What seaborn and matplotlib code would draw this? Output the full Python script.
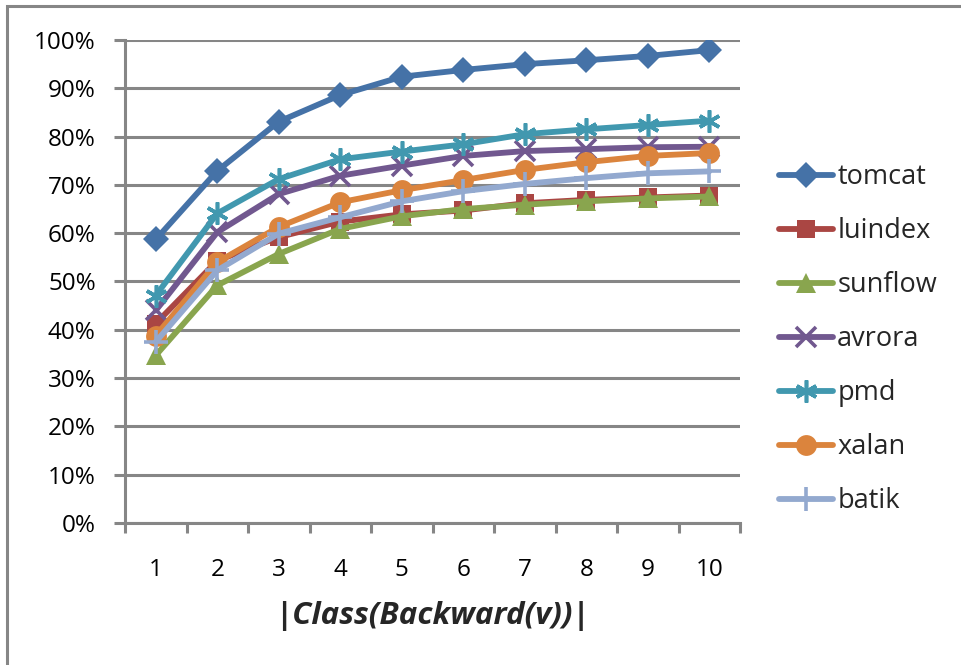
import matplotlib
matplotlib.use("Agg")
import matplotlib.pyplot as plt
import seaborn as sns
import pandas as pd
import numpy as np
from matplotlib.ticker import FuncFormatter, MultipleLocator, FixedLocator
from matplotlib.patches import Rectangle
from matplotlib.lines import Line2D

sizes = [1, 2, 3, 4, 5, 6, 7, 8, 9, 10]
tomcat = [58.7, 72.9, 83.1, 88.6, 92.4, 93.8, 95.0, 95.8, 96.7, 97.9]
luindex = [41.3, 54.3, 59.2, 62.4, 63.9, 64.7, 66.2, 66.9, 67.4, 67.8]
sunflow = [34.7, 49.2, 55.7, 60.9, 63.5, 65.0, 65.9, 66.6, 67.2, 67.6]
avrora = [44.0, 60.2, 68.1, 71.9, 74.0, 76.0, 77.0, 77.4, 77.8, 77.9]
pmd = [47.1, 64.1, 71.2, 75.3, 76.9, 78.4, 80.5, 81.5, 82.4, 83.3]
xalan = [38.8, 54.0, 61.3, 66.4, 68.9, 71.0, 73.1, 74.7, 76.0, 76.6]
batik = [37.5, 52.3, 59.9, 63.3, 66.6, 68.7, 70.2, 71.4, 72.4, 72.8]

names = ["tomcat", "luindex", "sunflow", "avrora", "pmd", "xalan", "batik"]
series = [tomcat, luindex, sunflow, avrora, pmd, xalan, batik]
colors = ["#4572A7", "#AA4643", "#89A54E", "#71588F", "#4198AF", "#DB843D", "#93A9CF"]
markers = ["D", "s", "^", "x", (6, 2, 0), "o", "+"]
msizes = [13, 13, 14, 14, 16, 15, 17]

rows = []
for n, vals in zip(names, series):
    for s, v in zip(sizes, vals):
        rows.append({"size": s, "value": v / 100.0, "bench": n})
df = pd.DataFrame(rows)

sns.set_theme(style="white")
plt.rcParams["font.family"] = ["Open Sans", "DejaVu Sans"]

fig = plt.figure(figsize=(9.61, 6.65), dpi=100)
ax = fig.add_axes([125 / 961, 1 - 523 / 665, 615 / 961, 483 / 665])

LW = 4.2
def mew(m):
    return 2.6 if m in ("x", "+", (6, 2, 0)) else 0

for n, c, m, ms in zip(names, colors, markers, msizes):
    sub = df[df["bench"] == n]
    sns.lineplot(data=sub, x="size", y="value", ax=ax, color=c, marker=m,
                 markersize=ms, linewidth=LW, markeredgewidth=mew(m),
                 markeredgecolor=c, label=n, legend=False)

ax.set_xlim(0.5, 10.5)
ax.set_ylim(0, 1.0)
ax.yaxis.set_major_locator(MultipleLocator(0.1))
ax.yaxis.set_major_formatter(FuncFormatter(lambda v, p: f"{v*100:.0f}%"))
ax.xaxis.set_major_locator(FixedLocator(sizes))
ax.xaxis.set_minor_locator(FixedLocator(np.arange(0.5, 11, 1.0)))
ax.grid(axis="y", color="#868686", linewidth=2.2)
ax.set_axisbelow(True)
for s in ["top", "right"]:
    ax.spines[s].set_visible(False)
for s in ["left", "bottom"]:
    ax.spines[s].set_color("#868686")
    ax.spines[s].set_linewidth(2.2)
ax.tick_params(axis="y", which="major", direction="out", length=8, width=2.2, color="#868686",
               labelsize=17.5, labelcolor="black", left=True, pad=13)
ax.tick_params(axis="x", which="major", length=0, labelsize=17.5, labelcolor="black", pad=25)
ax.tick_params(axis="x", which="minor", direction="out", length=7, width=2.2, color="#868686", bottom=True)
ax.set_xlabel("|Class(Backward(v))|", fontsize=22.5, fontweight="bold", fontstyle="italic", labelpad=14)
ax.set_ylabel("")

handles = []
for n, c, m, ms in zip(names, colors, markers, msizes):
    handles.append(Line2D([0], [0], color=c, marker=m, markersize=ms, linewidth=LW,
                          markeredgewidth=mew(m), markeredgecolor=c))
fig.legend(handles, names, loc="center left", bbox_to_anchor=(779 / 961, 1 - 339 / 665),
           frameon=False, fontsize=19.5, handlelength=2.0, handletextpad=0.15,
           labelspacing=0.96, borderpad=0, borderaxespad=0)

fig.patches.append(Rectangle((7 / 961, -10 / 665), 980 / 961, 669 / 665, transform=fig.transFigure,
                             fill=False, edgecolor="#868686", linewidth=2.2, clip_on=False))

fig.savefig("out.png", dpi=100)
